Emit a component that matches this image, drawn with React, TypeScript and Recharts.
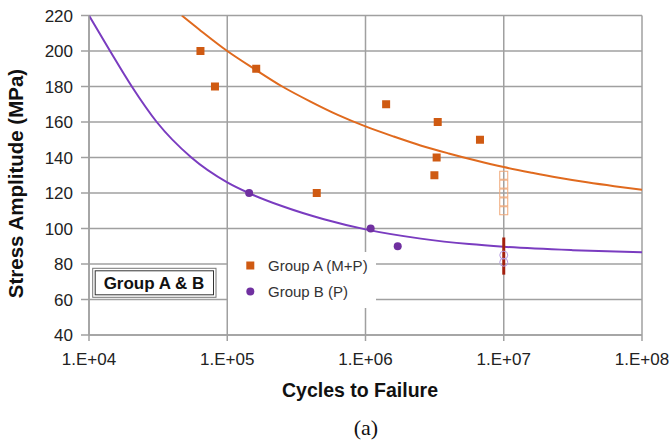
import React from "react";
import {
  ComposedChart,
  XAxis,
  YAxis,
  CartesianGrid,
  Scatter,
  Line,
} from "recharts";

// ---- data ----
const xTicks = [1e4, 1e5, 1e6, 1e7, 1e8];
const yTicks = [40, 60, 80, 100, 120, 140, 160, 180, 200, 220];

const groupA = [
  { n: 6.4e4, s: 200 },
  { n: 8.15e4, s: 180 },
  { n: 1.62e5, s: 190 },
  { n: 4.44e5, s: 120 },
  { n: 1.41e6, s: 170 },
  { n: 3.33e6, s: 160 },
  { n: 3.27e6, s: 140 },
  { n: 3.15e6, s: 130 },
  { n: 6.73e6, s: 150 },
];

const groupARunout = [
  { n: 1e7, s: 130 },
  { n: 1e7, s: 125 },
  { n: 1e7, s: 120 },
  { n: 1e7, s: 115 },
  { n: 1e7, s: 110 },
];

const groupB = [
  { n: 1.44e5, s: 120 },
  { n: 1.09e6, s: 100 },
  { n: 1.71e6, s: 90 },
];

const groupBRunout = [
  { n: 1e7, s: 85 },
  { n: 1e7, s: 81 },
];

const runoutBar = [
  { n: 1e7, s: 74 },
  { n: 1e7, s: 95 },
];

const curveA = [
  { n: 4.69e4, s: 220 },
  { n: 6.3e4, s: 212 },
  { n: 1e5, s: 200 },
  { n: 1.6e5, s: 189.5 },
  { n: 2.5e5, s: 180 },
  { n: 4e5, s: 171.5 },
  { n: 6.3e5, s: 164 },
  { n: 1e6, s: 157.5 },
  { n: 1.6e6, s: 151.8 },
  { n: 2.5e6, s: 146.8 },
  { n: 4e6, s: 142.3 },
  { n: 6.3e6, s: 138.3 },
  { n: 1e7, s: 134.6 },
  { n: 1.6e7, s: 131.4 },
  { n: 2.5e7, s: 128.6 },
  { n: 4e7, s: 126 },
  { n: 6.3e7, s: 123.8 },
  { n: 1e8, s: 121.8 },
];

const curveB = [
  { n: 1e4, s: 220 },
  { n: 1.42e4, s: 200 },
  { n: 2.04e4, s: 180 },
  { n: 3.09e4, s: 160 },
  { n: 5.5e4, s: 140 },
  { n: 1e5, s: 126 },
  { n: 1.43e5, s: 120 },
  { n: 2.51e5, s: 112.5 },
  { n: 5e5, s: 105.2 },
  { n: 1e6, s: 99.5 },
  { n: 2.51e6, s: 94.3 },
  { n: 5.62e6, s: 91.2 },
  { n: 1e7, s: 89.7 },
  { n: 3.16e7, s: 87.8 },
  { n: 1e8, s: 86.6 },
];

// ---- styles ----
const FONT = "'Liberation Sans', Arial, sans-serif";
const GRID = "#a0a0a0";
const ORANGE = "#cf5a12";
const ORANGE_LINE = "#e06a1e";
const PURPLE = "#7030a0";
const PURPLE_LINE = "#7a3cc0";

const fmtX = (v: number) => {
  const e = Math.round(Math.log10(v));
  return `1.E+${String(e).padStart(2, "0")}`;
};

const squareShape = (props: any) => (
  <rect x={props.cx - 4} y={props.cy - 4} width={8} height={8} fill={ORANGE} />
);
const openSquareShape = (props: any) => (
  <rect
    x={props.cx - 4}
    y={props.cy - 4}
    width={8}
    height={8}
    fill="none"
    stroke="#f0a878"
    strokeWidth={1}
  />
);
const circleShape = (props: any) => (
  <circle cx={props.cx} cy={props.cy} r={4} fill={PURPLE} />
);
const openCircleShape = (props: any) => (
  <circle cx={props.cx} cy={props.cy} r={4} fill="none" stroke="#b59ae2" strokeWidth={1} />
);

export default function App() {
  return (
    <div style={{ position: "absolute", left: 0, top: 0, width: 671, height: 444, background: "#fff" }}>
      <ComposedChart
        width={671}
        height={444}
        margin={{ top: 15.5, right: 29, bottom: 0, left: 0 }}
      >
        <CartesianGrid stroke={GRID} strokeWidth={1.5} />
        <XAxis
          type="number"
          dataKey="n"
          scale="log"
          domain={[1e4, 1e8]}
          ticks={xTicks}
          tickFormatter={fmtX}
          height={109}
          tickSize={6}
          tickMargin={12}
          axisLine={{ stroke: GRID, strokeWidth: 1.5 }}
          tickLine={{ stroke: GRID, strokeWidth: 1.5 }}
          tick={{ fill: "#222", fontSize: 17, fontFamily: FONT }}
          allowDataOverflow
        />
        <YAxis
          type="number"
          dataKey="s"
          domain={[40, 220]}
          ticks={yTicks}
          width={89}
          tickSize={8}
          tickMargin={8}
          axisLine={{ stroke: GRID, strokeWidth: 1.5 }}
          tickLine={{ stroke: GRID, strokeWidth: 1.5 }}
          tick={{ fill: "#222", fontSize: 17, fontFamily: FONT }}
          allowDataOverflow
        />
        <Scatter data={groupARunout} shape={openSquareShape} isAnimationActive={false} />
        <Scatter data={groupBRunout} shape={openCircleShape} isAnimationActive={false} />
        <Line
          data={curveA}
          dataKey="s"
          type="monotone"
          stroke={ORANGE_LINE}
          strokeWidth={2}
          dot={false}
          activeDot={false}
          isAnimationActive={false}
        />
        <Line
          data={curveB}
          dataKey="s"
          type="monotone"
          stroke={PURPLE_LINE}
          strokeWidth={2}
          dot={false}
          activeDot={false}
          isAnimationActive={false}
        />
        <Scatter data={groupA} shape={squareShape} isAnimationActive={false} />
        <Scatter data={groupB} shape={circleShape} isAnimationActive={false} />
        <Line
          data={runoutBar}
          dataKey="s"
          type="linear"
          stroke="#a3200e"
          strokeWidth={3}
          dot={false}
          activeDot={false}
          isAnimationActive={false}
        />
      </ComposedChart>
      <svg
        width={671}
        height={444}
        style={{ position: "absolute", left: 0, top: 0, pointerEvents: "none" }}
      >
        {/* legend */}
        <rect x={228} y={252} width={148} height={56} fill="#fff" />
        <rect x={246.3} y={261.5} width={8} height={8} fill={ORANGE} />
        <text x={268} y={270.5} fontFamily={FONT} fontSize={15} fill="#333">
          Group A (M+P)
        </text>
        <circle cx={250.3} cy={291.5} r={4} fill={PURPLE} />
        <text x={268} y={296.5} fontFamily={FONT} fontSize={15} fill="#333">
          Group B (P)
        </text>

        {/* group box */}
        <rect x={92.7} y={268.3} width={123.3} height={29} fill="#fff" stroke="#777" strokeWidth={1} />
        <rect x={95.2} y={270.8} width={118.3} height={24} fill="none" stroke="#333" strokeWidth={1} />
        <text
          x={154}
          y={288.5}
          textAnchor="middle"
          fontFamily={FONT}
          fontWeight="bold"
          fontSize={17}
          fill="#111"
        >
          Group A &amp; B
        </text>

        {/* axis titles */}
        <text
          transform="translate(22.5,183.5) rotate(-90)"
          textAnchor="middle"
          fontFamily={FONT}
          fontWeight="bold"
          fontSize={20.5}
          fill="#111"
        >
          Stress Amplitude (MPa)
        </text>
        <text
          x={360}
          y={397}
          textAnchor="middle"
          fontFamily={FONT}
          fontWeight="bold"
          fontSize={19.5}
          fill="#111"
        >
          Cycles to Failure
        </text>
        <text
          x={366}
          y={435}
          textAnchor="middle"
          fontFamily="'Liberation Serif', 'Times New Roman', serif"
          fontSize={22}
          fill="#111"
        >
          (a)
        </text>
      </svg>
    </div>
  );
}
